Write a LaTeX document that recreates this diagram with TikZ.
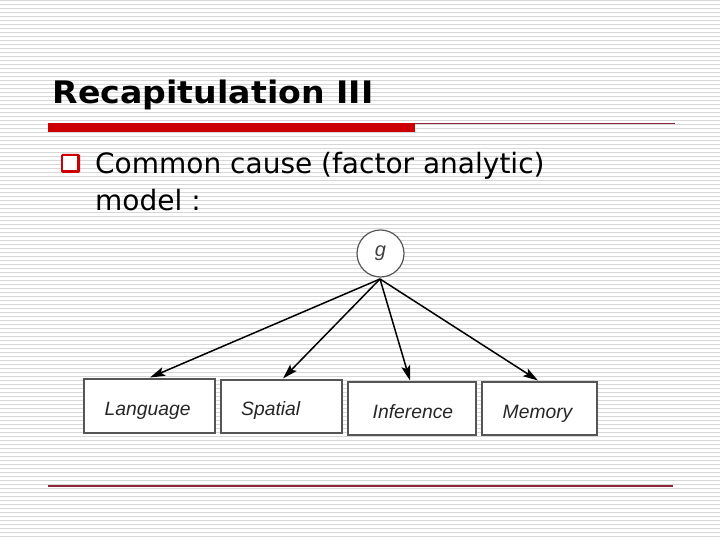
\documentclass[tikz,border=0pt]{standalone}
\usepackage{fontspec}
\setmainfont{DejaVu Sans}
\newfontfamily\boxfont{Liberation Sans}
\usetikzlibrary{arrows.meta}
\definecolor{slidered}{RGB}{204,0,0}
\definecolor{stripe}{RGB}{215,215,215}
\definecolor{rulered}{RGB}{140,40,55}
\definecolor{boxline}{RGB}{85,85,85}
\begin{document}
\begin{tikzpicture}[x=1pt,y=-1pt,
  factor/.style={draw=boxline,line width=2pt,fill=white,inner sep=0pt,rectangle},
  lbl/.style={anchor=base west,inner sep=0pt,text=black!85,font=\boxfont\itshape\fontsize{19.3pt}{22pt}\selectfont},
  causal/.style={-{Stealth[length=15pt,width=9pt,inset=3pt]},line width=1.5pt,black},
  bodytext/.style={anchor=base west,inner sep=0pt,font=\fontsize{28pt}{34pt}\selectfont}]
\useasboundingbox (0,0) rectangle (720,540);
\fill[white] (0,0) rectangle (720,540);
\foreach \k in {0,...,134} \draw[stripe,line width=1.3pt] (0,4*\k+0.7) -- (720,4*\k+0.7);
% title
\node[anchor=base west,inner sep=0pt,font=\bfseries\fontsize{31pt}{36pt}\selectfont] (title) at (52.5,103.5) {\scalebox{1.07}[1]{Recapitulation III}};
% rules
\fill[slidered] (48,123) rectangle (414.5,132.5);
\draw[rulered,line width=1.1pt] (414.5,123.5) -- (675,123.5);
\draw[rulered,line width=1.3pt] (48,486) -- (672.5,486);
% bullet
\fill[slidered,rounded corners=1.5pt] (61,154) rectangle (80,173);
\fill[white] (62.8,155.8) rectangle (76.6,169.6);
\node[bodytext] (line1) at (95,174) {Common cause (factor analytic)};
\node[bodytext] (line2) at (95,211) {model :};
% diagram
\node[circle,draw=boxline,line width=1.2pt,fill=white,minimum size=47pt,inner sep=0pt,
      font=\boxfont\itshape\fontsize{20pt}{22pt}\selectfont,text=black!75] (g) at (380.5,253.5) {g};
\node[factor,minimum width=131pt,minimum height=54pt] (lang) at (149,405.5) {};
\node[factor,minimum width=121pt,minimum height=53pt] (spat) at (281,406) {};
\node[factor,minimum width=128pt,minimum height=53pt] (infer) at (411.5,408) {};
\node[factor,minimum width=115pt,minimum height=53pt] (mem) at (539,408) {};
\node[lbl] (langt) at (104.5,415) {Language};
\node[lbl] (spatt) at (241,415) {Spatial};
\node[lbl] (infert) at (372.5,418) {Inference};
\node[lbl] (memt) at (502.5,418) {Memory};
\coordinate (apex) at (380,279);
\draw[causal] (apex) -- ([xshift=1pt]lang.north);
\draw[causal] (apex) -- ([xshift=2pt]spat.north);
\draw[causal] (apex) -- ([xshift=-1.5pt]infer.north);
\draw[causal] (apex) -- ([xshift=-1pt]mem.north);
\end{tikzpicture}
\end{document}
